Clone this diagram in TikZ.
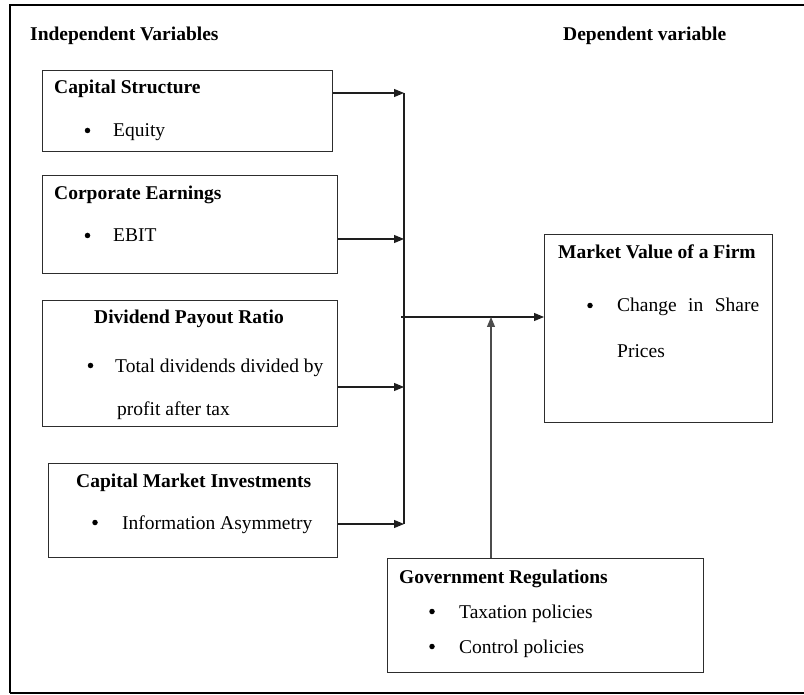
\documentclass[tikz,border=0pt]{standalone}
\usepackage{fontspec}
\setmainfont{Liberation Serif}
\usepackage{xcolor}
\usepackage{tikz}
\usetikzlibrary{arrows.meta, positioning, calc}
\definecolor{boxline}{RGB}{45, 45, 45}
\definecolor{linkgray}{RGB}{30, 30, 30}

\begin{document}
\begin{tikzpicture}[
    x=1pt, y=-1pt,
    font=\fontsize{19.5}{23}\selectfont,
    varbox/.style={rectangle, draw=boxline, line width=1.3pt, anchor=north west, inner sep=0pt, minimum width=#1},
    head/.style={font=\fontsize{19.5}{23}\selectfont\bfseries, anchor=base west, inner sep=0pt},
    item/.style={anchor=base west, inner sep=0pt},
    dot/.style={circle, fill=black, inner sep=0pt, minimum size=5.5pt},
    flow/.style={-{Triangle[length=10pt, width=8pt]}, line width=1.1pt, color=linkgray}
]
\useasboundingbox (0,0) rectangle (804,695);

% Frame
\draw[line width=2.4pt] (804,5) -- (10,5) -- (10,693);
\draw[line width=1.6pt] (10,693) -- (804,693);

% Column titles
\node[head] (indep) at (30,41) {Independent Variables};
\node[head] (dep) at (563,41) {Dependent variable};

% Capital structure
\node[varbox=290pt, minimum height=81pt] (cs) at (42,70) {};
\node[head] (cs-h) at (54,94) {Capital Structure};
\node[dot] (cs-d) at (87.5,130.5) {};
\node[item] (cs-t) at (113,137) {Equity};

% Corporate earnings
\node[varbox=295pt, minimum height=98pt] (ce) at (42,175) {};
\node[head] (ce-h) at (54,200) {Corporate Earnings};
\node[dot] (ce-d) at (87.5,235.5) {};
\node[item] (ce-t) at (113,242) {EBIT};

% Dividend payout ratio
\node[varbox=295pt, minimum height=126pt] (dpr) at (42,300) {};
\node[head] (dpr-h) at (94,324) {Dividend Payout Ratio};
\node[dot] (dpr-d) at (90.5,365.5) {};
\node[item] (dpr-t) at (115,372) {Total dividends divided by};
\node[item] (dpr-u) at (117,415) {profit after tax};

% Capital market investments
\node[varbox=289pt, minimum height=94pt] (cmi) at (48,463) {};
\node[head] (cmi-h) at (76,487) {Capital Market Investments};
\node[dot] (cmi-d) at (95,522.5) {};
\node[item] (cmi-t) at (122,529) {Information Asymmetry};

% Market value of a firm
\node[varbox=228pt, minimum height=188pt] (mvf) at (544,234) {};
\node[head] (mvf-h) at (558,259) {Market Value of a Firm};
\node[dot] (mvf-d) at (590,305.5) {};
\node[item] (mvf-t) at (617,312) {\makebox[142pt][s]{Change in Share}};
\node[item] (mvf-u) at (617,357) {Prices};

% Government regulations
\node[varbox=316pt, minimum height=114pt] (gov) at (387,558) {};
\node[head] (gov-h) at (399,583) {Government Regulations};
\node[dot] (gov-d) at (432,611.5) {};
\node[item] (gov-t) at (459,618) {Taxation policies};
\node[dot] (gov-e) at (432,646.5) {};
\node[item] (gov-u) at (459,653) {Control policies};

% Collecting line
\coordinate (j1) at (404,93);
\coordinate (j2) at (404,239);
\coordinate (j3) at (404,387);
\coordinate (j4) at (404,524);
\coordinate (hub) at (401,317);
\coordinate (meet) at (491,317);
\draw[line width=1.1pt, color=linkgray] (j1) -- (j4);

% Arrows into the collecting line
\draw[flow] (cs.east |- j1) -- (j1);
\draw[flow] (ce.east |- j2) -- (j2);
\draw[flow] (dpr.east |- j3) -- (j3);
\draw[flow] (cmi.east |- j4) -- (j4);

% Arrow to dependent variable
\draw[flow] (hub) -- (mvf.west |- hub);

% Moderating arrow
\draw[flow, color=black!70] (gov.north -| meet) -- (meet);

\end{tikzpicture}
\end{document}
